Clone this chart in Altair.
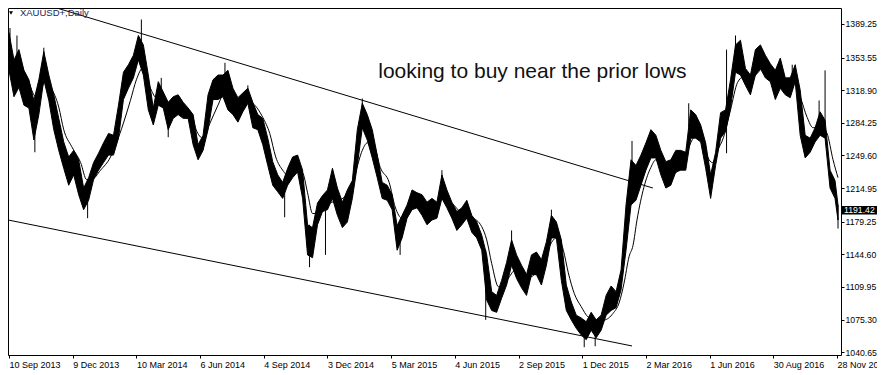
import altair as alt
import pandas as pd

# ---- price band (bar index, bulk high / low per ~5 bars) ----
bar_idx = list(range(0, 831, 5)) + [833]
bar_high = [
    1380, 1351, 1362, 1340, 1330, 1308, 1330, 1360, 1335, 1314,
    1289, 1264, 1248, 1255, 1245, 1215, 1226, 1242, 1252, 1263,
    1273, 1271, 1303, 1338, 1346, 1356, 1377, 1367, 1335, 1300,
    1328, 1317, 1306, 1312, 1314, 1306, 1300, 1293, 1261, 1271,
    1314, 1330, 1335, 1335, 1340, 1321, 1311, 1316, 1321, 1306,
    1293, 1289, 1268, 1243, 1229, 1221, 1236, 1248, 1250, 1234,
    1176, 1173, 1199, 1207, 1213, 1236, 1215, 1200, 1213, 1223,
    1277, 1305, 1293, 1277, 1250, 1221, 1218, 1208, 1175, 1186,
    1197, 1213, 1210, 1208, 1200, 1204, 1200, 1229, 1213, 1200,
    1190, 1194, 1202, 1186, 1179, 1165, 1144, 1105, 1101, 1117,
    1136, 1160, 1144, 1133, 1123, 1144, 1147, 1139, 1158, 1186,
    1179, 1160, 1112, 1094, 1080, 1077, 1073, 1083, 1075, 1080,
    1101, 1111, 1105, 1128, 1197, 1245, 1239, 1250, 1263, 1277,
    1271, 1255, 1243, 1245, 1255, 1255, 1253, 1298, 1293, 1282,
    1263, 1229, 1253, 1295, 1298, 1330, 1367, 1372, 1342, 1335,
    1362, 1367, 1356, 1347, 1340, 1353, 1332, 1332, 1346, 1319,
    1271, 1268, 1279, 1296, 1287, 1234, 1223,
    1197,
]
bar_low = [
    1340, 1312, 1322, 1303, 1300, 1266, 1293, 1330, 1308, 1277,
    1255, 1236, 1218, 1229, 1208, 1192, 1202, 1224, 1234, 1242,
    1250, 1250, 1268, 1309, 1321, 1332, 1351, 1335, 1298, 1282,
    1303, 1300, 1277, 1289, 1293, 1289, 1289, 1261, 1245, 1255,
    1277, 1309, 1309, 1312, 1298, 1293, 1285, 1296, 1305, 1279,
    1277, 1261, 1239, 1218, 1211, 1204, 1218, 1226, 1232, 1204,
    1144, 1141, 1176, 1190, 1192, 1204, 1186, 1173, 1179, 1204,
    1239, 1279, 1266, 1247, 1226, 1204, 1202, 1192, 1149, 1162,
    1183, 1192, 1194, 1186, 1176, 1181, 1183, 1204, 1194, 1183,
    1170, 1176, 1183, 1168, 1162, 1149, 1096, 1085, 1083, 1098,
    1112, 1133, 1119, 1109, 1101, 1123, 1123, 1112, 1133, 1162,
    1162, 1117, 1085, 1075, 1066, 1059, 1054, 1064, 1056, 1064,
    1080, 1085, 1088, 1107, 1149, 1197, 1202, 1218, 1234, 1247,
    1247, 1229, 1215, 1218, 1232, 1234, 1234, 1268, 1268, 1264,
    1236, 1204, 1239, 1268, 1275, 1300, 1338, 1335, 1324, 1314,
    1335, 1342, 1332, 1328, 1309, 1321, 1314, 1311, 1328, 1271,
    1247, 1253, 1264, 1271, 1268, 1215, 1204,
    1181,
]

# ---- individual wicks that stick out of the band ----
wick_idx = [1, 8, 26, 35, 79, 133, 153, 160, 217, 240, 277, 302, 318, 355, 393,
            435, 479, 505, 545, 578, 589, 626, 683, 721, 730, 787, 814, 820, 833]
wick_high = [1385, 1377, 1298, 1364, 1213, 1394, 1332, 1298, 1348, 1324, 1213, 1176, 1208, 1310, 1176,
             1234, 1149, 1170, 1192, 1075, 1075, 1265, 1305, 1362, 1377, 1346, 1308, 1340, 1197]
wick_low = [1351, 1340, 1253, 1330, 1183, 1351, 1309, 1269, 1319, 1309, 1184, 1131, 1144, 1287, 1144,
            1208, 1075, 1139, 1165, 1046, 1047, 1202, 1280, 1252, 1340, 1319, 1280, 1277, 1172]

# ---- moving average ----
ma_idx = [8, 18, 27, 32, 37, 42, 50, 55, 63, 72, 78, 83, 92, 102, 108, 115, 122, 128, 135, 138,
          143, 148, 155, 162, 172, 183, 188, 195, 202, 210, 218, 225, 232, 238, 245, 255, 262, 268,
          275, 282, 288, 295, 300, 305, 312, 322, 332, 342, 348, 355, 360, 367, 373, 382, 388, 395,
          405, 415, 422, 428, 437, 445, 455, 465, 475, 480, 485, 492, 498, 508, 515, 522, 532, 538,
          545, 552, 557, 562, 568, 575, 582, 590, 598, 607, 613, 618, 623, 627, 631, 638, 645, 650,
          658, 668, 678, 685, 692, 697, 702, 707, 712, 718, 725, 732, 738, 745, 752, 758, 768, 778,
          788, 795, 802, 808, 815, 822, 828, 833]
ma_val = [1354, 1333, 1312, 1319, 1330, 1322, 1301, 1277, 1259, 1242, 1224, 1224, 1234, 1248, 1263,
          1284, 1308, 1330, 1343, 1333, 1319, 1311, 1312, 1301, 1298, 1295, 1277, 1268, 1284, 1303,
          1319, 1312, 1301, 1308, 1305, 1290, 1273, 1248, 1234, 1227, 1234, 1231, 1210, 1188, 1188,
          1199, 1202, 1213, 1231, 1255, 1263, 1259, 1237, 1221, 1195, 1183, 1195, 1199, 1188, 1195,
          1205, 1199, 1188, 1184, 1174, 1160, 1135, 1110, 1114, 1128, 1131, 1120, 1128, 1139, 1157,
          1163, 1149, 1125, 1103, 1089, 1078, 1075, 1075, 1082, 1093, 1114, 1142, 1154, 1181, 1216,
          1237, 1245, 1237, 1231, 1242, 1263, 1273, 1266, 1248, 1242, 1255, 1269, 1298, 1327, 1333,
          1330, 1337, 1343, 1337, 1330, 1330, 1312, 1290, 1279, 1282, 1273, 1245, 1226]

# ---- trend lines ----
trend_name = ["upper", "upper", "lower", "lower"]
trend_idx = [28, 647, -1, 626]
trend_val = [1412.6, 1215.0, 1181.1, 1047.3]

# ---- axes ----
date_ticks = [0, 64, 128, 192, 256, 320, 384, 448, 512, 576, 640, 704, 768, 832]
date_labels = ["10 Sep 2013", "9 Dec 2013", "10 Mar 2014", "6 Jun 2014", "4 Sep 2014",
               "3 Dec 2014", "5 Mar 2015", "4 Jun 2015", "2 Sep 2015", "1 Dec 2015",
               "2 Mar 2016", "1 Jun 2016", "30 Aug 2016", "28 Nov 2016"]
price_ticks = [1389.25, 1353.55, 1318.90, 1284.25, 1249.60, 1214.95,
               1179.25, 1144.60, 1109.95, 1075.30, 1040.65]
last_price = 1191.42
symbol_title = "XAUUSD+,Daily"
note_text = "looking to buy near the prior lows"

FONT = "Liberation Sans"
label_js = "[" + ",".join("'" + s + "'" for s in date_labels) + "]"

x_scale = alt.Scale(domain=[-1, 836], nice=False, zero=False)
y_scale = alt.Scale(domain=[1037.7, 1406.2], nice=False, zero=False)
x_axis = alt.Axis(values=date_ticks, labelExpr=label_js + "[round(datum.value/64)]",
                  labelAlign="left", labelFlush=False, labelOverlap=False, grid=False,
                  domain=False, tickSize=3, labelPadding=2, labelFontSize=9, title=None)
y_axis = alt.Axis(values=price_ticks, format=".2f", orient="right", labelOverlap=False,
                  labelFlush=False, grid=False, domain=False, tickSize=3, labelPadding=1,
                  labelFontSize=8.7, labelBaseline="middle", title=None)


def X(f):
    return alt.X(f, type="quantitative", scale=x_scale, axis=x_axis)


def Y(f):
    return alt.Y(f, type="quantitative", scale=y_scale, axis=y_axis)


band_df = pd.DataFrame({"i": bar_idx, "hi": bar_high, "lo": bar_low})
wick_df = pd.DataFrame({"i": wick_idx, "hi": wick_high, "lo": wick_low})
ma_df = pd.DataFrame({"i": ma_idx, "p": ma_val})
trend_df = pd.DataFrame({"name": trend_name, "i": trend_idx, "p": trend_val})

band = alt.Chart(band_df).mark_area(color="black", stroke="black", strokeWidth=1).encode(
    x=X("i"), y=Y("hi"), y2="lo")
wicks = alt.Chart(wick_df).mark_rule(color="black", strokeWidth=1).encode(
    x=X("i"), y=Y("hi"), y2="lo")
ma = alt.Chart(ma_df).mark_line(color="black", strokeWidth=1, interpolate="monotone").encode(
    x=X("i"), y=Y("p"))
trend = alt.Chart(trend_df).mark_line(color="black", strokeWidth=1, clip=True).encode(
    x=X("i"), y=Y("p"), detail="name")

note = alt.Chart(pd.DataFrame({"i": [371], "p": [1338], "t": [note_text]})).mark_text(
    align="left", baseline="middle", font=FONT, fontSize=21, color="#111111").encode(
    x=X("i"), y=Y("p"), text="t")

title_txt = alt.Chart(pd.DataFrame({"i": [11], "p": [1400.4], "t": [symbol_title]})).mark_text(
    align="left", baseline="middle", font=FONT, fontSize=9.5, color="#14275e").encode(
    x=X("i"), y=Y("p"), text="t")
title_tri = alt.Chart(pd.DataFrame({"i": [2], "p": [1400.8]})).mark_point(
    shape="triangle-down", filled=True, size=16, color="black", opacity=1).encode(
    x=X("i"), y=Y("p"))

box = alt.Chart(pd.DataFrame({"a": [1196.0], "b": [1187.0]})).mark_rect(color="black").encode(
    x=alt.value(834), x2=alt.value(869), y=Y("a"), y2="b")
box_txt = alt.Chart(pd.DataFrame({"p": [last_price], "t": [f"{last_price:.2f}"]})).mark_text(
    align="left", baseline="middle", font=FONT, fontSize=8.7, color="white").encode(
    x=alt.value(836), y=Y("p"), text="t")

chart = alt.layer(band, wicks, ma, trend, note, title_txt, title_tri, box, box_txt).properties(
    width=833, height=347, background="white",
    autosize=alt.AutoSizeParams(type="none"),
    padding={"left": 0, "top": 0, "right": 36, "bottom": 16},
).configure_view(stroke="black", strokeWidth=1).configure_axis(
    labelFont=FONT, labelColor="black", tickColor="black", tickWidth=1
)

chart.save("out.html", embed_options={"renderer": "svg", "actions": False})
